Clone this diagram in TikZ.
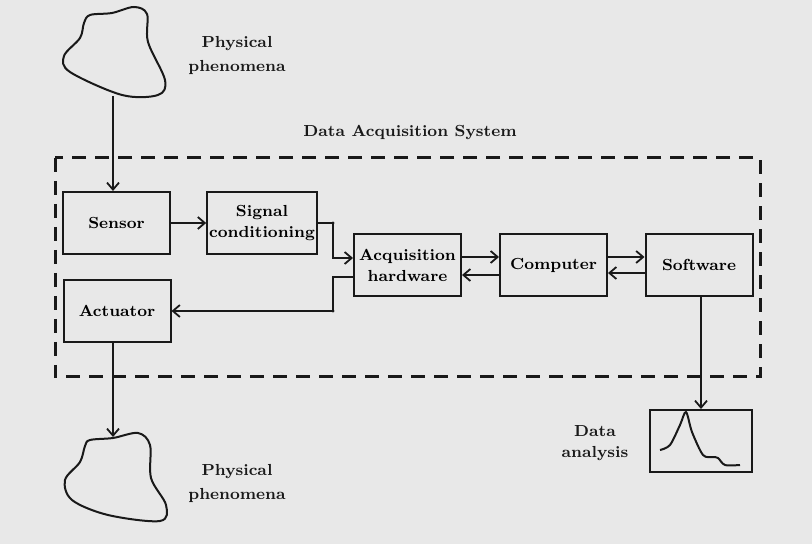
\documentclass[tikz,border=0pt]{standalone}
\usepackage{tikz}
\usetikzlibrary{arrows.meta,positioning}
\definecolor{bggray}{RGB}{232,232,232}
\definecolor{inkgray}{RGB}{25,25,25}

\begin{document}
\begin{tikzpicture}[x=0.5pt,y=-0.5pt,->,>={Straight Barb[length=3.5pt,width=6pt]},
		line width=0.9pt,draw=inkgray,
		font=\fontsize{8}{10.5}\selectfont\bfseries,
		block/.style={rectangle,draw=inkgray,line width=1pt,minimum width=53.5pt,minimum height=31pt,align=center,inner sep=1pt},
		lbl/.style={align=center,text=inkgray},
		wide lbl/.style={lbl,font=\fontsize{8}{12}\selectfont\bfseries}]

		\fill[bggray] (0,0) rectangle (812,544);
		\useasboundingbox (0,0) rectangle (812,544);

		% clouds
		\draw[-,line width=1pt] plot[smooth cycle,tension=0.55] coordinates {(90,15) (112,13) (134,7) (147,14) (148,42) (165,80) (158,95) (122,95) (70,72) (64,56) (80,38) (84,23)};
		\coordinate (top) at (113,96);
		\draw[-,line width=1pt] plot[smooth cycle,tension=0.55] coordinates {(90,440) (113,438) (138,433) (150,445) (151,478) (166,505) (160,521) (108,515) (72,500) (65,480) (80,462) (85,446)};
		\coordinate (bot) at (113,437);

		\node[wide lbl](ph1) at (237,56){Physical\\phenomena};
		\node[wide lbl](ph2) at (237,483){Physical\\phenomena};
		\node[lbl](das) at (410,133){Data Acquisition System};
		\node[lbl](ana) at (595,443){Data\\analysis};

		% dashed frame
		\draw[-,line width=1.5pt,dash pattern=on 7pt off 4.5pt] (55,158) rectangle (760,377);

		\node[block](sen) at (116.5,223){Sensor};
		\node[block](sig) at (262,223){Signal\\conditioning};
		\node[block](acq) at (407.5,265){Acquisition\\hardware};
		\node[block](act) at (117,311){Actuator};
		\node[block](com) at (553.5,265){Computer};
		\node[block](sof) at (699,265){Software};
		\node[block,minimum width=51pt](plt) at (701,441){};

		\coordinate (jx) at (333,265);

		\path
		(top) edge (top |- sen.north)
		(act.south -| bot) edge (bot)
		(sen.east) edge (sig.west)
		([yshift=4pt]acq.east) edge ([yshift=4pt]com.west)
		([yshift=-5pt]com.west) edge ([yshift=-5pt]acq.east)
		([yshift=4pt]com.east) edge ([yshift=4pt]sof.west)
		([yshift=-4pt]sof.west) edge ([yshift=-4pt]com.east)
		(sof.south -| plt.north) edge (plt.north);

		\draw (sig.east) -| ([yshift=3.5pt]acq.west -| jx) -- ([yshift=3.5pt]acq.west);
		\draw ([yshift=-6pt]acq.west) -| (jx |- act.east) -- (act.east);
		\fill[inkgray] (sig.east -| jx) circle (1.6);
		\fill[inkgray] (jx |- act.east) circle (1.6);

		% peak in the plot
		\draw[-,line width=1pt] plot[smooth,tension=0.5] coordinates {(660,450) (670,445) (680,425) (686,412) (692,432) (703,455) (713,457) (718,458) (725,465) (740,465)};

	\end{tikzpicture}
\end{document}
